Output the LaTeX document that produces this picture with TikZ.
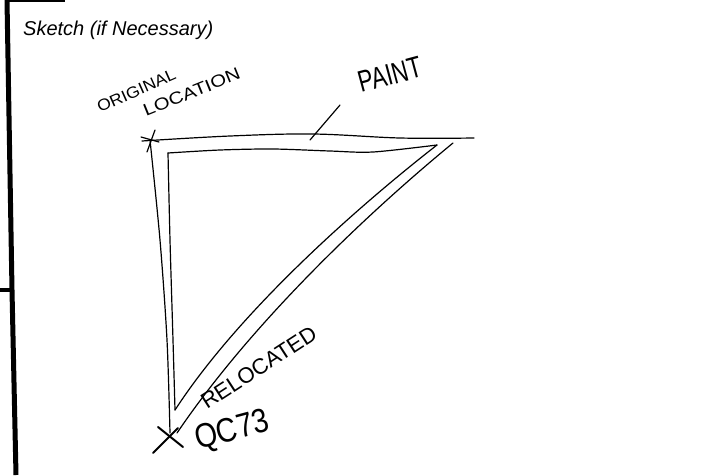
\documentclass[tikz,border=0pt]{standalone}
\usepackage{fontspec}
\setmainfont{Liberation Sans}
\begin{document}
\begin{tikzpicture}[x=1pt,y=-1pt,
  pen/.style={line width=1.2pt, line cap=round, line join=round},
  hand/.style={inner sep=0pt, anchor=base west},
  frame/.style={line width=5pt},
]
\useasboundingbox[fill=white] (0,0) rectangle (702,475);
% form frame
\draw[frame] (7,0) -- (12,290) -- (16,475);
\draw[line width=4pt] (0,290) -- (12,290);
\draw[line width=2pt] (6,1) -- (65,1);
% title
\node[hand, font=\fontsize{20}{20}\selectfont\itshape] (title) at (23,35) {Sketch (if Necessary)};
% outer top line
\draw[pen] plot[smooth, tension=0.6] coordinates {(142,141) (230,136) (313,134) (400,138) (474,138)};
% inner triangle
\draw[pen] plot[smooth, tension=0.5] coordinates {(168,153) (220,150) (273,149) (330,151) (373,152) (437,145)};
\draw[pen] (437,145) .. controls (360,205) and (240,310) .. (175,410);
\draw[pen] plot[smooth, tension=0.5] coordinates {(168,153) (170,240) (173,340) (175,410)};
% outer left and hypotenuse
\draw[pen] plot[smooth, tension=0.5] coordinates {(150,140) (160,240) (167,340) (170,433)};
\draw[pen] (453,143) .. controls (375,207) and (255,318) .. (177,433);
% paint leader
\draw[pen] (310,140) -- (340,105);
% original location mark
\draw[pen] (141,137) -- (159,142);
\draw[pen] (155,130) -- (147,152);
% relocated mark
\draw[line width=2pt, line cap=round] (153,453) -- (178,428);
\draw[line width=2pt, line cap=round] (158,427) -- (183,447);
% handwritten labels
\node[hand, font=\fontsize{16}{16}\selectfont, rotate=24, xscale=1.1] (orig) at (100,113) {ORIGINAL};
\node[hand, font=\fontsize{17}{17}\selectfont, rotate=22, xscale=1.2] (loc) at (146,117) {LOCATION};
\node[hand, font=\fontsize{30}{30}\selectfont, rotate=15, xscale=0.75] (paint) at (361,93) {PAINT};
\node[hand, font=\fontsize{22}{22}\selectfont, rotate=33] (reloc) at (207,410) {RELOCATED};
\node[hand, font=\fontsize{34}{34}\selectfont, rotate=15, xscale=0.85] (qc) at (198,450) {QC73};
\end{tikzpicture}
\end{document}
